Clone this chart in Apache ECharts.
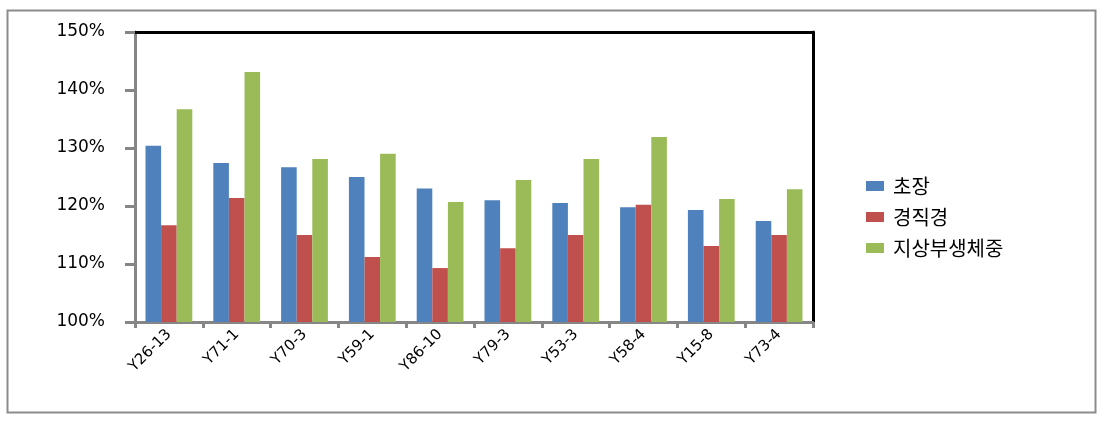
<!DOCTYPE html>
<html>
<head>
<meta charset="utf-8">
<script src="https://cdn.jsdelivr.net/npm/echarts@6/dist/echarts.min.js"></script>
<style>html,body{margin:0;padding:0;background:#fff}#c{width:1108px;height:424px}</style>
</head>
<body>
<div id="c"></div>
<script>
const categories = ['Y26-13','Y71-1','Y70-3','Y59-1','Y86-10','Y79-3','Y53-3','Y58-4','Y15-8','Y73-4'];
const seriesNames = ['초장','경직경','지상부생체중'];
const chojang = [130.4, 127.4, 126.7, 125.0, 123.0, 121.0, 120.5, 119.8, 119.3, 117.4];
const gyeongjik = [116.7, 121.4, 115.0, 111.2, 109.3, 112.7, 115.0, 120.2, 113.1, 115.0];
const saengche = [136.7, 143.1, 128.1, 129.0, 120.7, 124.5, 128.1, 131.9, 121.2, 122.9];
const yTicks = [100, 110, 120, 130, 140, 150];

const colors = ['#4F81BD', '#C0504D', '#9BBB59'];
const chart = echarts.init(document.getElementById('c'), null, {renderer: 'canvas'});
const grey = '#868686';
const mkSeries = (name, data, i) => ({
  name, type: 'bar', data, xAxisIndex: 0, yAxisIndex: 0,
  barGap: '0%', barCategoryGap: '31%',
  itemStyle: {color: colors[i]}
});
chart.setOption({
  animation: false,
  textStyle: {fontFamily: 'DejaVu Sans'},
  graphic: [{
    type: 'rect', shape: {x: 7.5, y: 10.5, width: 1088, height: 402},
    style: {fill: 'none', stroke: '#8c8c8c', lineWidth: 2}, z: -10
  }],
  grid: {left: 135, right: 295, top: 32, bottom: 102},
  legend: {
    orient: 'vertical', left: 861, top: 171,
    itemWidth: 18, itemHeight: 10, itemGap: 11,
    icon: 'rect',
    textStyle: {fontSize: 20, color: '#000', fontFamily: 'Noto Sans CJK KR', padding: [0, 0, 0, 4]},
    data: seriesNames
  },
  xAxis: [{
    type: 'category', data: categories, position: 'bottom',
    axisLine: {lineStyle: {color: grey, width: 3}},
    axisTick: {show: true, length: 6, lineStyle: {color: grey, width: 3}},
    axisLabel: {rotate: 45, margin: 10, fontSize: 15, color: '#000', fontFamily: 'DejaVu Sans', interval: 0}
  }, {
    type: 'category', data: categories, position: 'top',
    axisLine: {lineStyle: {color: '#000', width: 3}},
    axisTick: {show: false}, axisLabel: {show: false}
  }],
  yAxis: [{
    type: 'value', min: 100, max: 150, interval: 10,
    axisLine: {show: true, lineStyle: {color: grey, width: 3}},
    axisTick: {show: true, length: 10, lineStyle: {color: grey, width: 3}},
    splitLine: {show: false},
    axisLabel: {margin: 30, fontSize: 17, color: '#000', fontFamily: 'DejaVu Sans',
      formatter: v => yTicks.includes(v) ? v + '%' : ''}
  }, {
    type: 'value', min: 100, max: 150, interval: 10, position: 'right',
    axisLine: {show: true, lineStyle: {color: '#000', width: 3}},
    axisTick: {show: false}, axisLabel: {show: false}, splitLine: {show: false}
  }],
  series: [
    mkSeries(seriesNames[0], chojang, 0),
    mkSeries(seriesNames[1], gyeongjik, 1),
    mkSeries(seriesNames[2], saengche, 2)
  ]
});
</script>
</body>
</html>
